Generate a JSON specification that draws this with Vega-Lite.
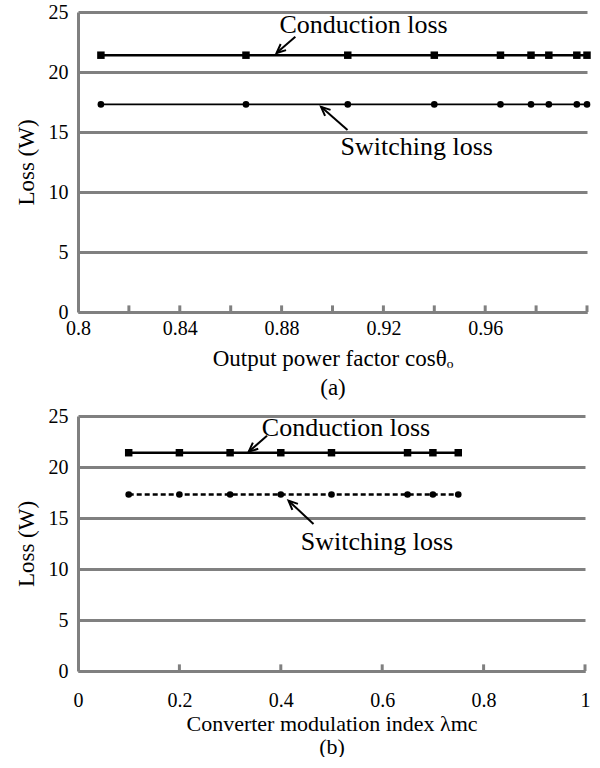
{
  "$schema": "https://vega.github.io/schema/vega-lite/v6.json",
  "padding": {"left": 15, "top": 2, "right": 0, "bottom": 0},
  "spacing": 7,
  "config": {
    "view": {"stroke": null},
    "font": "Liberation Serif",
    "axis": {
      "domainColor": "#808080", "domainWidth": 3,
      "gridColor": "#808080", "gridWidth": 3,
      "labelFont": "Liberation Serif", "labelFontSize": 20, "labelColor": "#000000",
      "titleFont": "Liberation Serif", "titleFontSize": 23, "titleFontWeight": "normal", "titleColor": "#000000",
      "labelFlush": false, "labelOverlap": false
    }
  },
  "datasets": {
    "a": [
      {"x": 0.809, "y": 21.4, "series": "Conduction loss"},
      {"x": 0.866, "y": 21.4, "series": "Conduction loss"},
      {"x": 0.906, "y": 21.4, "series": "Conduction loss"},
      {"x": 0.940, "y": 21.4, "series": "Conduction loss"},
      {"x": 0.966, "y": 21.4, "series": "Conduction loss"},
      {"x": 0.978, "y": 21.4, "series": "Conduction loss"},
      {"x": 0.985, "y": 21.4, "series": "Conduction loss"},
      {"x": 0.996, "y": 21.4, "series": "Conduction loss"},
      {"x": 1.0, "y": 21.4, "series": "Conduction loss"},
      {"x": 0.809, "y": 17.3, "series": "Switching loss"},
      {"x": 0.866, "y": 17.3, "series": "Switching loss"},
      {"x": 0.906, "y": 17.3, "series": "Switching loss"},
      {"x": 0.940, "y": 17.3, "series": "Switching loss"},
      {"x": 0.966, "y": 17.3, "series": "Switching loss"},
      {"x": 0.978, "y": 17.3, "series": "Switching loss"},
      {"x": 0.985, "y": 17.3, "series": "Switching loss"},
      {"x": 0.996, "y": 17.3, "series": "Switching loss"},
      {"x": 1.0, "y": 17.3, "series": "Switching loss"}
    ],
    "b": [
      {"x": 0.1, "y": 21.4, "series": "Conduction loss"},
      {"x": 0.2, "y": 21.4, "series": "Conduction loss"},
      {"x": 0.3, "y": 21.4, "series": "Conduction loss"},
      {"x": 0.4, "y": 21.4, "series": "Conduction loss"},
      {"x": 0.5, "y": 21.4, "series": "Conduction loss"},
      {"x": 0.65, "y": 21.4, "series": "Conduction loss"},
      {"x": 0.7, "y": 21.4, "series": "Conduction loss"},
      {"x": 0.75, "y": 21.4, "series": "Conduction loss"},
      {"x": 0.1, "y": 17.3, "series": "Switching loss"},
      {"x": 0.2, "y": 17.3, "series": "Switching loss"},
      {"x": 0.3, "y": 17.3, "series": "Switching loss"},
      {"x": 0.4, "y": 17.3, "series": "Switching loss"},
      {"x": 0.5, "y": 17.3, "series": "Switching loss"},
      {"x": 0.65, "y": 17.3, "series": "Switching loss"},
      {"x": 0.7, "y": 17.3, "series": "Switching loss"},
      {"x": 0.75, "y": 17.3, "series": "Switching loss"}
    ],
    "ticksA": [
      {"x": 0.82}, {"x": 0.84}, {"x": 0.86}, {"x": 0.88}, {"x": 0.9},
      {"x": 0.92}, {"x": 0.94}, {"x": 0.96}, {"x": 0.98}, {"x": 1.0}
    ],
    "ticksB": [
      {"x": 0.2}, {"x": 0.4}, {"x": 0.6}, {"x": 0.8}, {"x": 1.0}
    ],
    "labelsA": [
      {"x": 0.9122, "y": 23.9, "label": "Conduction loss"},
      {"x": 0.9331, "y": 13.75, "label": "Switching loss"}
    ],
    "arrowsA": [
      {"x": 0.878, "y": 21.58, "x2": 0.8854, "y2": 22.94, "angle": 229},
      {"x": 0.8955, "y": 17.1, "x2": 0.9059, "y2": 15.17, "angle": 312}
    ],
    "labelsB": [
      {"x": 0.5286, "y": 23.8, "label": "Conduction loss"},
      {"x": 0.5897, "y": 12.65, "label": "Switching loss"}
    ],
    "arrowsB": [
      {"x": 0.3367, "y": 21.5, "x2": 0.3728, "y2": 23.07, "angle": 229},
      {"x": 0.4152, "y": 16.7, "x2": 0.4645, "y2": 14.41, "angle": 313}
    ]
  },
  "vconcat": [
    {
      "width": 509,
      "height": 300,
      "layer": [
        {
          "data": {"name": "a"},
          "mark": {"type": "line", "color": "black"},
          "encoding": {
            "x": {
              "field": "x", "type": "quantitative",
              "scale": {"domain": [0.8, 1.0], "nice": false, "zero": false},
              "axis": {
                "title": ["Output power factor cosθₒ", "(a)"],
                "values": [0.8, 0.84, 0.88, 0.92, 0.96],
                "format": ".2~f",
                "ticks": false, "labelPadding": 6, "titlePadding": 9, "titleLineHeight": 29, "grid": false
              }
            },
            "y": {
              "field": "y", "type": "quantitative",
              "scale": {"domain": [0, 25], "nice": false},
              "axis": {"title": "Loss (W)", "values": [0, 5, 10, 15, 20, 25], "ticks": false, "grid": true, "labelPadding": 10, "titlePadding": 10}
            },
            "detail": {"field": "series"},
            "strokeWidth": {"field": "series", "type": "nominal", "scale": {"domain": ["Conduction loss", "Switching loss"], "range": [2.5, 1.8]}, "legend": null}
          }
        },
        {
          "data": {"name": "ticksA"},
          "mark": {"type": "rule", "color": "#808080", "strokeWidth": 3},
          "encoding": {
            "x": {"field": "x", "type": "quantitative"},
            "y": {"datum": 0},
            "y2": {"datum": 0.55}
          }
        },
        {
          "data": {"name": "a"},
          "mark": {"type": "point", "filled": true, "color": "black", "opacity": 1},
          "encoding": {
            "x": {"field": "x", "type": "quantitative"},
            "y": {"field": "y", "type": "quantitative"},
            "shape": {"field": "series", "type": "nominal", "scale": {"domain": ["Conduction loss", "Switching loss"], "range": ["square", "circle"]}, "legend": null},
            "size": {"field": "series", "type": "nominal", "scale": {"domain": ["Conduction loss", "Switching loss"], "range": [56, 44]}, "legend": null}
          }
        },
        {
          "data": {"name": "arrowsA"},
          "mark": {"type": "rule", "color": "black", "strokeWidth": 2},
          "encoding": {
            "x": {"field": "x", "type": "quantitative"},
            "y": {"field": "y", "type": "quantitative"},
            "x2": {"field": "x2"},
            "y2": {"field": "y2"}
          }
        },
        {
          "data": {"name": "arrowsA"},
          "mark": {"type": "point", "shape": "M-0.45,1L0,0L0.45,1", "filled": false, "color": "black", "strokeWidth": 2, "size": 330, "opacity": 1},
          "encoding": {
            "x": {"field": "x", "type": "quantitative"},
            "y": {"field": "y", "type": "quantitative"},
            "angle": {"field": "angle", "type": "quantitative", "scale": null}
          }
        },
        {
          "data": {"name": "labelsA"},
          "mark": {"type": "text", "font": "Liberation Serif", "fontSize": 26, "align": "center", "baseline": "middle", "color": "black"},
          "encoding": {
            "x": {"field": "x", "type": "quantitative"},
            "y": {"field": "y", "type": "quantitative"},
            "text": {"field": "label"}
          }
        }
      ]
    },
    {
      "width": 507,
      "height": 255,
      "layer": [
        {
          "data": {"name": "b"},
          "mark": {"type": "line", "color": "black", "strokeWidth": 2.5},
          "encoding": {
            "x": {
              "field": "x", "type": "quantitative",
              "scale": {"domain": [0, 1], "nice": false, "zero": false},
              "axis": {
                "title": ["Converter modulation index λmc", "(b)"],
                "values": [0, 0.2, 0.4, 0.6, 0.8, 1],
                "format": ".1~f",
                "ticks": false, "labelPadding": 19, "titlePadding": 3, "titleFontSize": 22, "titleLineHeight": 23, "grid": false
              }
            },
            "y": {
              "field": "y", "type": "quantitative",
              "scale": {"domain": [0, 25], "nice": false},
              "axis": {"title": "Loss (W)", "values": [0, 5, 10, 15, 20, 25], "ticks": false, "grid": true, "labelPadding": 10, "titlePadding": 10}
            },
            "detail": {"field": "series"},
            "strokeDash": {"field": "series", "type": "nominal", "scale": {"domain": ["Conduction loss", "Switching loss"], "range": [[1, 0], [5, 3]]}, "legend": null}
          }
        },
        {
          "data": {"name": "ticksB"},
          "mark": {"type": "rule", "color": "#808080", "strokeWidth": 3},
          "encoding": {
            "x": {"field": "x", "type": "quantitative"},
            "y": {"datum": 0},
            "y2": {"datum": 0.65}
          }
        },
        {
          "data": {"name": "b"},
          "mark": {"type": "point", "filled": true, "color": "black", "opacity": 1},
          "encoding": {
            "x": {"field": "x", "type": "quantitative"},
            "y": {"field": "y", "type": "quantitative"},
            "shape": {"field": "series", "type": "nominal", "scale": {"domain": ["Conduction loss", "Switching loss"], "range": ["square", "circle"]}, "legend": null},
            "size": {"field": "series", "type": "nominal", "scale": {"domain": ["Conduction loss", "Switching loss"], "range": [110, 120]}, "legend": null}
          }
        },
        {
          "data": {"name": "arrowsB"},
          "mark": {"type": "rule", "color": "black", "strokeWidth": 2},
          "encoding": {
            "x": {"field": "x", "type": "quantitative"},
            "y": {"field": "y", "type": "quantitative"},
            "x2": {"field": "x2"},
            "y2": {"field": "y2"}
          }
        },
        {
          "data": {"name": "arrowsB"},
          "mark": {"type": "point", "shape": "M-0.45,1L0,0L0.45,1", "filled": false, "color": "black", "strokeWidth": 2, "size": 330, "opacity": 1},
          "encoding": {
            "x": {"field": "x", "type": "quantitative"},
            "y": {"field": "y", "type": "quantitative"},
            "angle": {"field": "angle", "type": "quantitative", "scale": null}
          }
        },
        {
          "data": {"name": "labelsB"},
          "mark": {"type": "text", "font": "Liberation Serif", "fontSize": 26, "align": "center", "baseline": "middle", "color": "black"},
          "encoding": {
            "x": {"field": "x", "type": "quantitative"},
            "y": {"field": "y", "type": "quantitative"},
            "text": {"field": "label"}
          }
        }
      ]
    }
  ]
}
